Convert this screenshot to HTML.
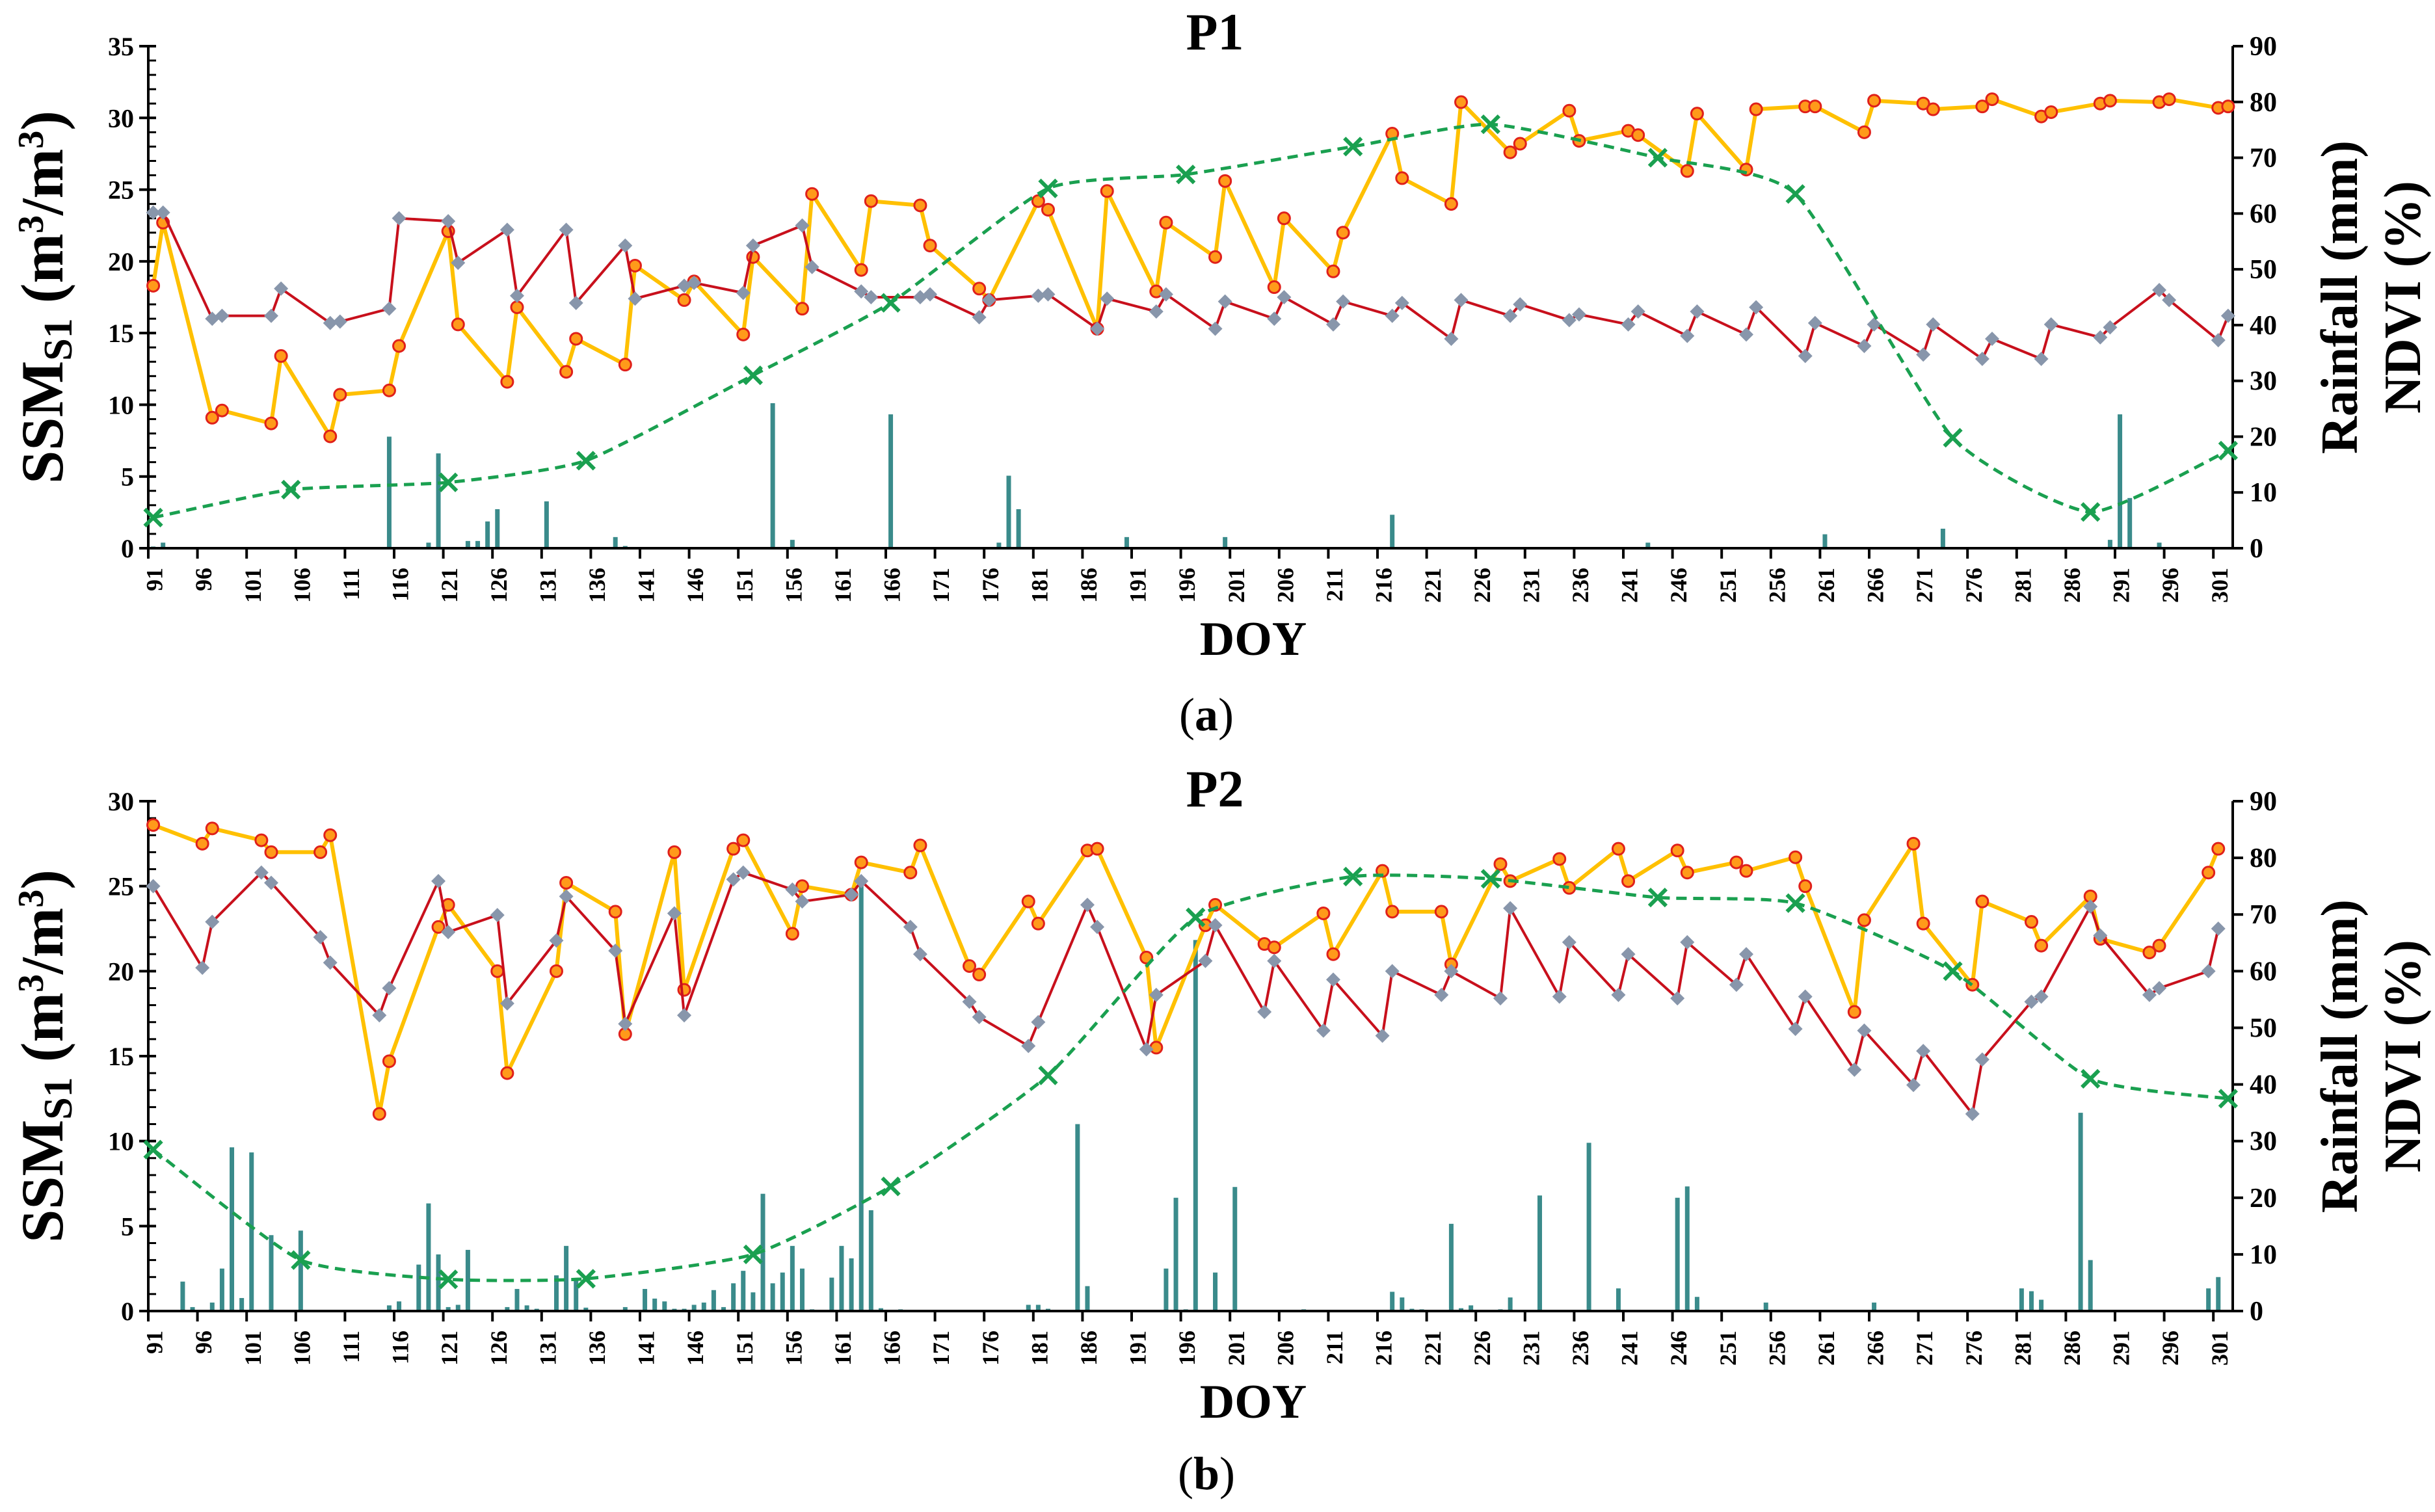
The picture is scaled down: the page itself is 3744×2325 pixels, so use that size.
<!DOCTYPE html>
<html><head><meta charset="utf-8"><style>
html,body{margin:0;padding:0;background:#fff;}
svg{display:block;font-family:"Liberation Serif",serif;}
</style></head><body>
<svg id="chart" xmlns="http://www.w3.org/2000/svg" width="3744" height="2325" viewBox="0 0 3744 2325">
<rect width="3744" height="2325" fill="#fff"/>
<g id="pa"></g>
<g id="pb"></g>
</svg>
<script>
// ---------- Panel A (P1) data ----------
const aS1Days = [91,92,97,98,103,104,109,110,115,116,121,122,127,128,133,134,139,140,145,146,151,152,157,158,163,164,169,170,175,176,181,182,187,188,193,194,199,200,205,206,211,212,217,218,223,224,229,230,235,236,241,242,247,248,253,254,259,260,265,266,271,272,277,278,283,284,289,290,295,296,301,302];
const aRed = [23.4,23.4,16.0,16.2,16.2,18.1,15.7,15.8,16.7,23.0,22.8,19.9,22.2,17.6,22.2,17.1,21.1,17.4,18.3,18.5,17.8,21.1,22.5,19.6,17.9,17.5,17.5,17.7,16.1,17.3,17.6,17.7,15.3,17.4,16.5,17.7,15.3,17.2,16.0,17.5,15.6,17.2,16.2,17.1,14.6,17.3,16.2,17.0,15.9,16.3,15.6,16.5,14.8,16.5,14.9,16.8,13.4,15.7,14.1,15.6,13.5,15.6,13.2,14.6,13.2,15.6,14.7,15.4,18.0,17.3,14.5,16.2];
const aYellow = [18.3,22.7,9.1,9.6,8.7,13.4,7.8,10.7,11.0,14.1,22.1,15.6,11.6,16.8,12.3,14.6,12.8,19.7,17.3,18.6,14.9,20.3,16.7,24.7,19.4,24.2,23.9,21.1,18.1,17.3,24.2,23.6,15.3,24.9,17.9,22.7,20.3,25.6,18.2,23.0,19.3,22.0,28.9,25.8,24.0,31.1,27.6,28.2,30.5,28.4,29.1,28.8,26.3,30.3,26.4,30.6,30.8,30.8,29.0,31.2,31.0,30.6,30.8,31.3,30.1,30.4,31.0,31.2,31.1,31.3,30.7,30.8];
const aNdviDays = [91,105,121,135,152,166,182,196,213,227,244,258,274,288,302];
const aNdvi = [5.5,10.5,11.8,15.7,31,44,64.5,67,72,76,70,63.5,19.8,6.5,17.5];
const aRainDays = [91,92,115,119,120,122,123,124,125,126,131,135,138,139,154,156,166,177,178,179,190,200,217,222,243,261,273,290,291,292,295];
const aRain = [0.3,1.0,20,1,17,0.2,1.3,1.3,4.8,7,8.4,0.2,2,0.4,26,1.5,24,1,13,7,2,2,6,0.2,1,2.5,3.5,1.5,24,9,1];
const aLeftTicks = [0,5,10,15,20,25,30,35];
// ---------- Panel B (P2) data ----------
const bS1Days = [91,96,97,102,103,108,109,114,115,120,121,126,127,132,133,138,139,144,145,150,151,156,157,162,163,168,169,174,175,180,181,186,187,192,193,198,199,204,205,210,211,216,217,222,223,228,229,234,235,240,241,246,247,252,253,258,259,264,265,270,271,276,277,282,283,288,289,294,295,300,301];
const bRed = [25.0,20.2,22.9,25.8,25.2,22.0,20.5,17.4,19.0,25.3,22.3,23.3,18.1,21.8,24.4,21.2,16.9,23.4,17.4,25.4,25.8,24.8,24.1,24.5,25.3,22.6,21.0,18.2,17.3,15.6,17.0,23.9,22.6,15.4,18.6,20.6,22.7,17.6,20.6,16.5,19.5,16.2,20.0,18.6,20.0,18.4,23.7,18.5,21.7,18.6,21.0,18.4,21.7,19.2,21.0,16.6,18.5,14.2,16.5,13.3,15.3,11.6,14.8,18.2,18.5,23.8,22.1,18.6,19.0,20.0,22.5];
const bYellow = [28.6,27.5,28.4,27.7,27.0,27.0,28.0,11.6,14.7,22.6,23.9,20.0,14.0,20.0,25.2,23.5,16.3,27.0,18.9,27.2,27.7,22.2,25.0,24.5,26.4,25.8,27.4,20.3,19.8,24.1,22.8,27.1,27.2,20.8,15.5,22.7,23.9,21.6,21.4,23.4,21.0,25.9,23.5,23.5,20.4,26.3,25.3,26.6,24.9,27.2,25.3,27.1,25.8,26.4,25.9,26.7,25.0,17.6,23.0,27.5,22.8,19.2,24.1,22.9,21.5,24.4,21.9,21.1,21.5,25.8,27.2];
const bNdviDays = [91,106,121,135,152,166,182,197,213,227,244,258,274,288,302];
const bNdvi = [28.5,9,5.6,5.7,10,22,41.6,69.5,76.7,76.3,73,72,60,41,37.5];
const bRainDays = [94,95,97,98,99,100,101,103,106,115,116,118,119,120,121,122,123,127,128,129,130,132,133,134,135,139,141,142,143,144,145,146,147,148,149,150,151,152,153,154,155,156,157,158,160,161,162,163,164,165,167,180,181,182,185,186,194,195,196,197,199,201,208,217,218,219,220,223,224,225,228,229,232,237,240,246,247,248,255,266,281,282,283,287,288,300,301];
const bRain = [5.2,0.7,1.5,7.5,28.9,2.3,28,13.4,14.2,1,1.7,8.2,19,10,0.7,1.1,10.8,0.7,3.9,1,0.4,6.3,11.5,5.6,0.6,0.7,3.9,2.2,1.7,0.4,0.4,1.1,1.5,3.7,0.7,4.9,7.1,3.3,20.7,4.9,6.8,11.5,7.5,0.3,5.9,11.5,9.3,76,17.8,0.5,0.3,1.1,1.1,0.4,33,4.4,7.5,20,0.3,65.5,6.8,21.9,0.3,3.4,2.4,0.4,0.3,15.4,0.5,1,0.3,2.4,20.4,29.7,4,20,22,2.5,1.5,1.5,4,3.5,2,35,9,4,6];
const bLeftTicks = [0,5,10,15,20,25,30];
const rightTicks = [0,10,20,30,40,50,60,70,80,90];
const xTickDays = [91,96,101,106,111,116,121,126,131,136,141,146,151,156,161,166,171,176,181,186,191,196,201,206,211,216,221,226,231,236,241,246,251,256,261,266,271,276,281,286,291,296,301];

const NS = "http://www.w3.org/2000/svg";
const X0 = 228, X1 = 3433, DPX = 15.12, RIGHTMAX = 90;
function xOf(d){ return X0 + (d - 91 + 0.5) * DPX; }
function xTick(d){ return X0 + (d - 91) * DPX; }
function mk(tag, attrs, parent){
  const e = document.createElementNS(NS, tag);
  for (const k in attrs) e.setAttribute(k, attrs[k]);
  parent.appendChild(e); return e;
}
function smoothPath(pts){
  let d = "M" + pts[0][0] + "," + pts[0][1];
  for (let i = 0; i < pts.length - 1; i++){
    const p0 = pts[i-1] || pts[i], p1 = pts[i], p2 = pts[i+1], p3 = pts[i+2] || p2;
    const t = 0.09;
    const c1x = p1[0] + (p2[0]-p0[0])*t, c1y = p1[1] + (p2[1]-p0[1])*t;
    const c2x = p2[0] - (p3[0]-p1[0])*t, c2y = p2[1] - (p3[1]-p1[1])*t;
    d += " C" + c1x + "," + c1y + " " + c2x + "," + c2y + " " + p2[0] + "," + p2[1];
  }
  return d;
}
function drawPanel(g, cfg){
  const yTop = cfg.yTop, yBot = cfg.yBot, lmax = cfg.leftMax;
  const yL = v => yBot - v / lmax * (yBot - yTop);
  const yR = v => yBot - v / RIGHTMAX * (yBot - yTop);
  const bars = mk("g", {}, g);
  
  
  cfg.rainDays.forEach((d, i) => {
    const h = yBot - yR(cfg.rain[i]);
    const r = mk("rect", {x: xOf(d) - 3.5, y: yBot - h, width: 7, height: h, fill: "#3a8b8b"}, bars);
    
    
  });
  const ax = mk("g", {stroke: "#000", "stroke-width": 4, fill: "none"}, g);
  
  
  mk("line", {x1: X0, y1: yTop, x2: X0, y2: yBot + 2}, ax);
  mk("line", {x1: X1, y1: yTop, x2: X1, y2: yBot + 2}, ax);
  mk("line", {x1: X0 - 14, y1: yBot, x2: X1 + 16, y2: yBot}, ax);
  for (let v = 0; v <= lmax; v++){
    const y = yL(v);
    if (v % 5 === 0) mk("line", {x1: X0 - 14, y1: y, x2: X0 + 12, y2: y}, ax);
    else mk("line", {x1: X0, y1: y, x2: X0 + 12, y2: y, "stroke-width": 3}, ax);
  }
  rightTicks.forEach(v => mk("line", {x1: X1, y1: yR(v), x2: X1 + 16, y2: yR(v)}, ax));
  xTickDays.forEach(d => mk("line", {x1: xTick(d), y1: yBot, x2: xTick(d), y2: yBot + 16}, ax));
  const tl = mk("g", {"font-size": 40, "font-weight": "bold", fill: "#000"}, g);
  
  
  cfg.leftTicks.forEach(v => { const t = mk("text", {x: X0 - 22, y: yL(v) + 14, "text-anchor": "end"}, tl); t.textContent = v; });
  rightTicks.forEach(v => { const t = mk("text", {x: X1 + 26, y: yR(v) + 14, "text-anchor": "start", "font-size": 42}, tl); t.textContent = v; });
  xTickDays.forEach(d => {
    const x = xOf(d) + 2, y = yBot + 30;
    const t = mk("text", {x: x, y: y, "text-anchor": "end", "font-size": 36, transform: "rotate(-90 " + x + " " + y + ")", dy: 12}, tl);
    t.textContent = d;
  });
  const ptsY = cfg.days.map((d, i) => [xOf(d), yL(cfg.yellow[i])]);
  const yl = mk("polyline", {points: ptsY.map(p => p.join(",")).join(" "), fill: "none", stroke: "#ffc000", "stroke-width": 6, "stroke-linejoin": "round"}, g);
  
  
  const yg = mk("g", {fill: "#ff9a1a", stroke: "#e0201a", "stroke-width": 3}, g);
  
  
  ptsY.forEach(p => mk("circle", {cx: p[0], cy: p[1], r: 9}, yg));
  const ptsR = cfg.days.map((d, i) => [xOf(d), yL(cfg.red[i])]);
  const rl = mk("polyline", {points: ptsR.map(p => p.join(",")).join(" "), fill: "none", stroke: "#c8101c", "stroke-width": 4, "stroke-linejoin": "round"}, g);
  
  
  const rg = mk("g", {fill: "#8896ab"}, g);
  
  
  ptsR.forEach(p => mk("polygon", {points: (p[0]) + "," + (p[1]-11) + " " + (p[0]+11) + "," + p[1] + " " + p[0] + "," + (p[1]+11) + " " + (p[0]-11) + "," + p[1]}, rg));
  const ptsN = cfg.ndviDays.map((d, i) => [xOf(d), yR(cfg.ndvi[i])]);
  const nl = mk("path", {d: smoothPath(ptsN), fill: "none", stroke: "#1aa050", "stroke-width": 5, "stroke-dasharray": "16 10"}, g);
  
  
  const ng = mk("g", {stroke: "#1aa050", "stroke-width": 6}, g);
  
  
  ptsN.forEach(p => { mk("line", {x1: p[0]-13, y1: p[1]-13, x2: p[0]+13, y2: p[1]+13}, ng); mk("line", {x1: p[0]-13, y1: p[1]+13, x2: p[0]+13, y2: p[1]-13}, ng); });
  const tt = mk("text", {x: 1868, y: cfg.titleY, "text-anchor": "middle", "font-size": 80, "font-weight": "bold"}, g);
  
  
  tt.textContent = cfg.title;
  const lc = (yTop + yBot) / 2;
  const lt = mk("text", {x: 66, y: lc, "text-anchor": "middle", "font-size": 92, "font-weight": "bold", transform: "rotate(-90 66 " + lc + ")", dy: 30}, g);
  
  
  lt.innerHTML = 'SSM<tspan font-size="62" dy="14">S1</tspan><tspan dy="-14"> (m</tspan><tspan font-size="56" dy="-30">3</tspan><tspan dy="30">/m</tspan><tspan font-size="56" dy="-30">3</tspan><tspan dy="30">)</tspan>';
  const r1 = mk("text", {x: 3598, y: lc, "text-anchor": "middle", "font-size": 80, "font-weight": "bold", transform: "rotate(-90 3598 " + lc + ")", dy: 26}, g);
  
  
  r1.textContent = "Rainfall (mm)";
  const r2 = mk("text", {x: 3695, y: lc, "text-anchor": "middle", "font-size": 80, "font-weight": "bold", transform: "rotate(-90 3695 " + lc + ")", dy: 26}, g);
  
  
  r2.textContent = "NDVI (%)";
  const xt = mk("text", {x: 1927, y: cfg.doyY, "text-anchor": "middle", "font-size": 74, "font-weight": "bold"}, g);
  
  
  xt.textContent = "DOY";
  const sl = mk("text", {x: 1855, y: cfg.subY, "text-anchor": "middle", "font-size": 72}, g);
  
  
  sl.innerHTML = '(<tspan font-weight="bold">' + cfg.sub + '</tspan>)';
}
drawPanel(document.getElementById("pa"), {yTop: 71, yBot: 843, leftMax: 35, leftTicks: aLeftTicks, days: aS1Days, red: aRed, yellow: aYellow, ndviDays: aNdviDays, ndvi: aNdvi, rainDays: aRainDays, rain: aRain, title: "P1", titleY: 76, doyY: 1007, subY: 1123, sub: "a"});
drawPanel(document.getElementById("pb"), {yTop: 1232, yBot: 2016, leftMax: 30, leftTicks: bLeftTicks, days: bS1Days, red: bRed, yellow: bYellow, ndviDays: bNdviDays, ndvi: bNdvi, rainDays: bRainDays, rain: bRain, title: "P2", titleY: 1240, doyY: 2180, subY: 2290, sub: "b"});
</script>
</body></html>
